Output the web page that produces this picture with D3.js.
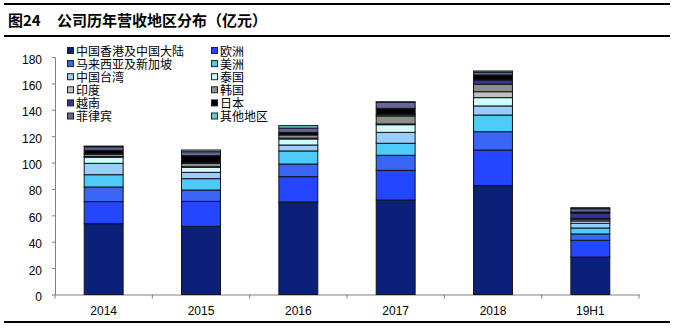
<!DOCTYPE html>
<html>
<head>
<meta charset="utf-8">
<script src="https://cdn.jsdelivr.net/npm/d3@7"></script>
<style>
  body { margin: 0; background: #fff; }
  svg { display: block; }
  .tick text { font-family: "Liberation Sans", Arial, sans-serif; font-size: 12px; fill: #000; }
  .legend text { font-family: "Noto Sans CJK SC", sans-serif; font-size: 12px; fill: #000; }
</style>
</head>
<body>
<svg id="chart" width="674" height="331"></svg>
<script>
// years on the x axis
const years = ["2014", "2015", "2016", "2017", "2018", "19H1"];

// regions, bottom of the stack first
const regions = ["中国香港及中国大陆", "欧洲", "马来西亚及新加坡", "美洲", "中国台湾", "泰国",
  "印度", "韩国", "越南", "日本", "菲律宾", "其他地区"];
const regionColors = ["#0b2078", "#2346ff", "#3a66f8", "#4fcbfa", "#99ccff", "#ccffff",
  "#c0c0c0", "#8e8e8e", "#333399", "#000000", "#666699", "#66cccc"];

// revenue per region (亿元), one array per year in region order
const rev2014 = [53.7, 16.7, 11.1, 9.3, 8.6, 4.6, 0.6, 1.7, 0.6, 2.4, 2.6, 0.6];
const rev2015 = [51.7, 18.9, 8.6, 8.6, 4.8, 3.8, 0.5, 2.5, 0.4, 5.4, 3.0, 1.3];
const rev2016 = [70.1, 19.2, 9.6, 9.9, 4.5, 4.6, 0.6, 2.4, 0.5, 1.5, 3.2, 1.9];
const rev2017 = [71.6, 22.5, 11.4, 9.1, 8.3, 5.8, 0.6, 6.0, 1.3, 4.5, 4.5, 0.5];
const rev2018 = [82.5, 27.0, 13.9, 12.6, 6.9, 6.3, 4.5, 5.6, 3.3, 3.8, 2.0, 1.0];
const rev19H1 = [28.4, 12.7, 4.8, 4.5, 3.6, 1.7, 1.0, 1.0, 4.0, 0.8, 2.5, 0.8];

const yTicks = [0, 20, 40, 60, 80, 100, 120, 140, 160, 180];

const revenue = [rev2014, rev2015, rev2016, rev2017, rev2018, rev19H1];

// build rows for d3.stack
let rows = years.map(function(y, i) {
  let row = { year: y };
  regions.forEach(function(r, j) { row[r] = revenue[i][j]; });
  return row;
});

const svg = d3.select("#chart");

// heading with rules above and below
svg.append("rect").attr("x", 4).attr("y", 3).attr("width", 666).attr("height", 2).attr("fill", "#000");
svg.append("rect").attr("x", 4).attr("y", 35).attr("width", 666).attr("height", 2).attr("fill", "#000");
svg.append("rect").attr("x", 4).attr("y", 321).attr("width", 666).attr("height", 2).attr("fill", "#000");
svg.append("text")
  .attr("x", 8).attr("y", 26)
  .style("font-family", "'Noto Sans CJK SC', sans-serif")
  .style("font-weight", "bold")
  .style("font-size", "15px")
  .text("图24");
svg.append("text")
  .attr("x", 57).attr("y", 26)
  .style("font-family", "'Noto Sans CJK SC', sans-serif")
  .style("font-weight", "bold")
  .style("font-size", "15px")
  .text("公司历年营收地区分布（亿元）");

// scales
var xScale = d3.scaleBand()
  .domain(years)
  .range([55, 639])
  .paddingInner(0.6)
  .paddingOuter(0.3);

var yScale = d3.scaleLinear()
  .domain([0, 180])
  .range([294.5, 57]);

// y axis
var yAxis = svg.append("g")
  .attr("transform", "translate(55,0)")
  .call(d3.axisLeft(yScale).tickValues(yTicks).tickSize(3).tickSizeOuter(0).tickPadding(10));
yAxis.select(".domain").attr("stroke", "#808080");
yAxis.selectAll(".tick line").attr("stroke", "#808080");
yAxis.selectAll(".tick text").attr("dy", "0.5em");

// x axis: labels centred under bars, ticks on category boundaries
var xAxis = svg.append("g")
  .attr("transform", "translate(0,294.5)")
  .call(d3.axisBottom(xScale).tickSize(0).tickSizeOuter(0).tickPadding(12));
xAxis.select(".domain").attr("stroke", "#808080");

let step = xScale.step();
let edges = years.map(function(y) { return xScale(y) - step * 0.3; });
edges.push(xScale(years[years.length - 1]) + xScale.bandwidth() + step * 0.3);
svg.append("g").selectAll("line").data(edges)
  .enter().append("line")
  .attr("x1", function(d) { return d; })
  .attr("x2", function(d) { return d; })
  .attr("y1", 294.5)
  .attr("y2", 298.5)
  .attr("stroke", "#808080");

// stacked bars
var series = d3.stack().keys(regions)(rows);
svg.append("g").selectAll("g").data(series)
  .enter().append("g")
  .attr("fill", function(d, i) { return regionColors[i]; })
  .selectAll("rect").data(function(d) { return d; })
  .enter().append("rect")
  .attr("x", function(d) { return xScale(d.data.year); })
  .attr("width", xScale.bandwidth())
  .attr("y", function(d) { return yScale(d[1]); })
  .attr("height", function(d) { return yScale(d[0]) - yScale(d[1]); })
  .attr("stroke", "#141414")
  .attr("stroke-width", 1);

// legend, two columns
var legend = svg.append("g").attr("class", "legend");
regions.forEach(function(r, i) {
  let col = i % 2;
  let row = Math.floor(i / 2);
  let lx = col === 0 ? 67 : 211;
  let ly = 51 + row * 13.1;
  legend.append("rect")
    .attr("x", lx + 0.5).attr("y", ly - 3.5)
    .attr("width", 6).attr("height", 6)
    .attr("fill", regionColors[i])
    .attr("stroke", "#222");
  legend.append("text")
    .attr("x", lx + 9).attr("y", ly + 4.5)
    .text(r);
});
</script>
</body>
</html>
